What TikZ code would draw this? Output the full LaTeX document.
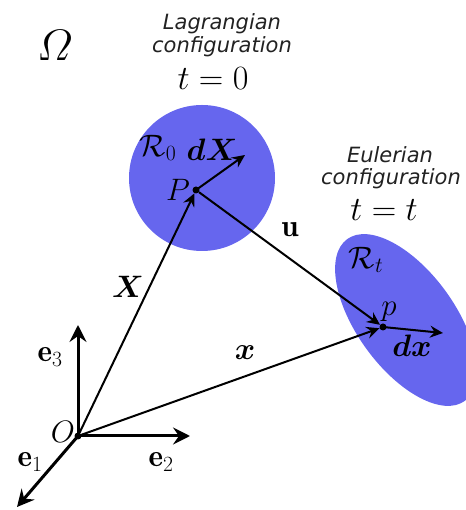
\RequirePackage{fix-cm}
\documentclass[tikz,border=0pt]{standalone}
\usepackage{amsmath,amssymb}
\usepackage{bm}
\usepackage{fontspec}
\newfontfamily\labfont{DejaVu Sans}
\usetikzlibrary{arrows.meta}
\definecolor{regblue}{RGB}{102,102,238}
\definecolor{captxt}{RGB}{34,34,34}
\tikzset{
  captext/.style={font=\labfont\itshape\fontsize{21}{25}\selectfont, text=captxt, anchor=base, inner sep=0pt},
  mlab/.style={font=\fontsize{31}{35}\selectfont, inner sep=0pt},
  tlab/.style={font=\fontsize{34}{38}\selectfont, inner sep=0pt, anchor=base},
  dotnode/.style={circle, fill=black, inner sep=0pt, minimum size=7pt},
  vec/.style={line width=2pt, -{Stealth[length=13pt,width=12pt,inset=4.5pt]}},
  axis/.style={line width=3pt, -{Stealth[length=17pt,width=17pt,inset=6pt]}},
  region/.style={fill=regblue}
}
\begin{document}
\begin{tikzpicture}[x=1pt,y=1pt]
\useasboundingbox (0,0) rectangle (465,510);
% regions
\fill[region] (202,332) circle [radius=73];
\fill[region, rotate around={-54:(406,190)}] (406,190) ellipse [x radius=100, y radius=49];
% captions
\node[font=\fontsize{44}{48}\selectfont, inner sep=0pt] (omega) at (55,465) {$\varOmega$};
\node[captext] (lag1) at (222,480) {Lagrangian};
\node[captext] (lag2) at (222,457) {configuration};
\node[tlab] (lag3) at (213,420) {$t=0$};
\node[captext] (eul1) at (390,347) {Eulerian};
\node[captext] (eul2) at (391,325) {configuration};
\node[tlab] (eul3) at (384,289) {$t=t$};
% points
\node[dotnode] (O) at (78,74) {};
\node[dotnode] (P) at (196,320) {};
\node[dotnode] (p) at (383,183) {};
\coordinate (dXend) at (245,355);
\coordinate (dxend) at (443,177);
\coordinate (e3end) at (78,185);
\coordinate (e2end) at (190,74);
\coordinate (e1end) at (17,3);
% axes
\draw[axis] (O.center) -- (e3end);
\draw[axis] (O.center) -- (e2end);
\draw[axis] (O.center) -- (e1end);
% vectors
\draw[vec] (O) -- (P);
\draw[vec] (O) -- (p);
\draw[vec] (P) -- (p);
\draw[vec] (P.center) -- (dXend);
\draw[vec] (p.center) -- (dxend);
% labels
\node[mlab] (lR0) at (158,362) {$\mathcal{R}_0$};
\node[mlab] (ldX) at (212,360) {$\bm{dX}$};
\node[mlab] (lP) at (178,320) {$P$};
\node[mlab] (lu) at (290,280) {$\mathbf{u}$};
\node[mlab] (lX) at (128,223) {$\bm{X}$};
\node[mlab] (lx) at (245,157) {$\bm{x}$};
\node[mlab] (lp) at (389,198) {$p$};
\node[mlab] (ldx) at (412,164) {$\bm{dx}$};
\node[mlab] (lRt) at (366,250) {$\mathcal{R}_t$};
\node[mlab] (le3) at (50,153) {$\mathbf{e}_3$};
\node[mlab] (le2) at (161,48) {$\mathbf{e}_2$};
\node[mlab] (le1) at (30,48) {$\mathbf{e}_1$};
\node[mlab] (lO) at (63,78) {$O$};
\end{tikzpicture}
\end{document}
